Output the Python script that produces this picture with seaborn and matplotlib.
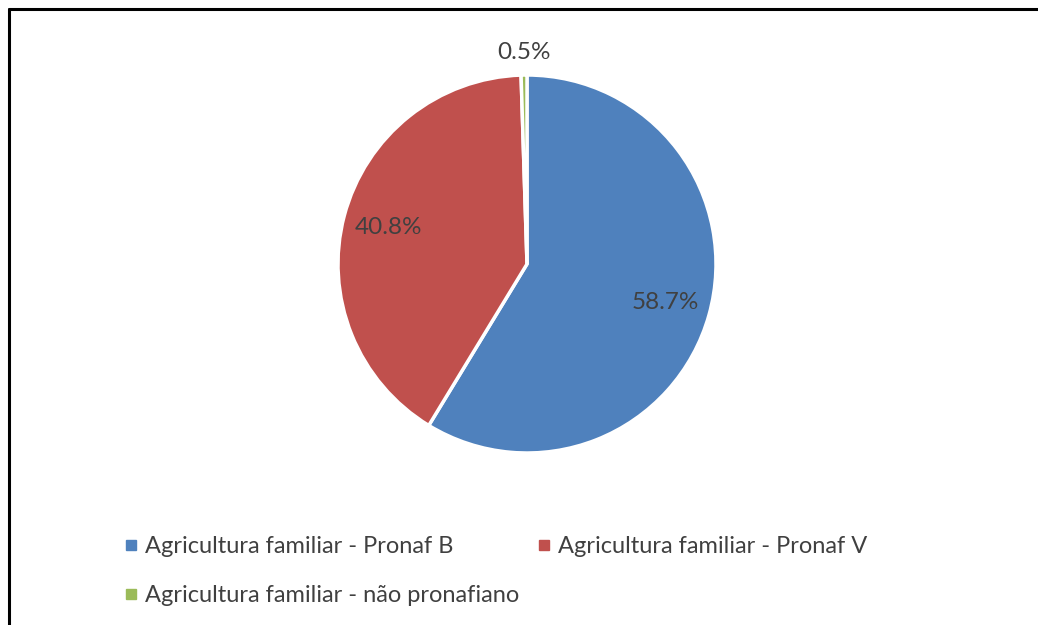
import matplotlib
matplotlib.use("Agg")
import matplotlib.pyplot as plt
from matplotlib.lines import Line2D
import seaborn as sns
import numpy as np

categories = ["Agricultura familiar - Pronaf B",
              "Agricultura familiar - Pronaf V",
              "Agricultura familiar - não pronafiano"]
values = [58.7, 40.8, 0.5]
colors = ["#4F81BD", "#C0504D", "#9BBB59"]

sns.set_theme(style="white")
plt.rcParams['font.family'] = ['Lato', 'DejaVu Sans']
TXT = "#404040"

W, H = 1038, 625
fig = plt.figure(figsize=(W / 100, H / 100), dpi=100)
cx, cy, r = 527, 264, 189
ax = fig.add_axes([(cx - r) / W, (H - cy - r) / H, 2 * r / W, 2 * r / H])

wedges, texts, autotexts = ax.pie(
    values, colors=colors, startangle=90, counterclock=False,
    autopct=lambda p: f"{p:.1f}%", pctdistance=0.76,
    wedgeprops=dict(edgecolor="white", linewidth=2.5),
    textprops=dict(color=TXT, fontsize=17.5), radius=1)
# move small slice label outside
for w, t, v in zip(wedges, autotexts, values):
    if v < 2:
        ang = np.deg2rad((w.theta1 + w.theta2) / 2)
        t.set_position((1.12 * np.cos(ang), 1.12 * np.sin(ang)))
ax.set_xlim(-1, 1)
ax.set_ylim(-1, 1)
ax.set_aspect("equal")
ax.axis("off")

handles = [Line2D([0], [0], marker="s", linestyle="none", markersize=7,
                  markerfacecolor=c, markeredgecolor=c) for c in colors]
order = [0, 2, 1]  # row-major fill: B, V on first row, não pronafiano on second
fig.legend([handles[i] for i in order], [categories[i] for i in order],
           loc="upper left",
           bbox_to_anchor=(125 / W, 1 - 536 / H), ncol=2, frameon=False,
           fontsize=17, labelcolor=TXT, handlelength=0.5, handletextpad=0.35,
           columnspacing=0.8, labelspacing=1.18, borderaxespad=0, borderpad=0)

# frame border (top and left)
fig.add_artist(Line2D([9 / W, 9 / W], [0, 1 - 9 / H], color="black", lw=2.2,
                      transform=fig.transFigure))
fig.add_artist(Line2D([9 / W, 1], [1 - 9 / H, 1 - 9 / H], color="black", lw=2.2,
                      transform=fig.transFigure))

fig.savefig("out.png", dpi=100, facecolor="white")
